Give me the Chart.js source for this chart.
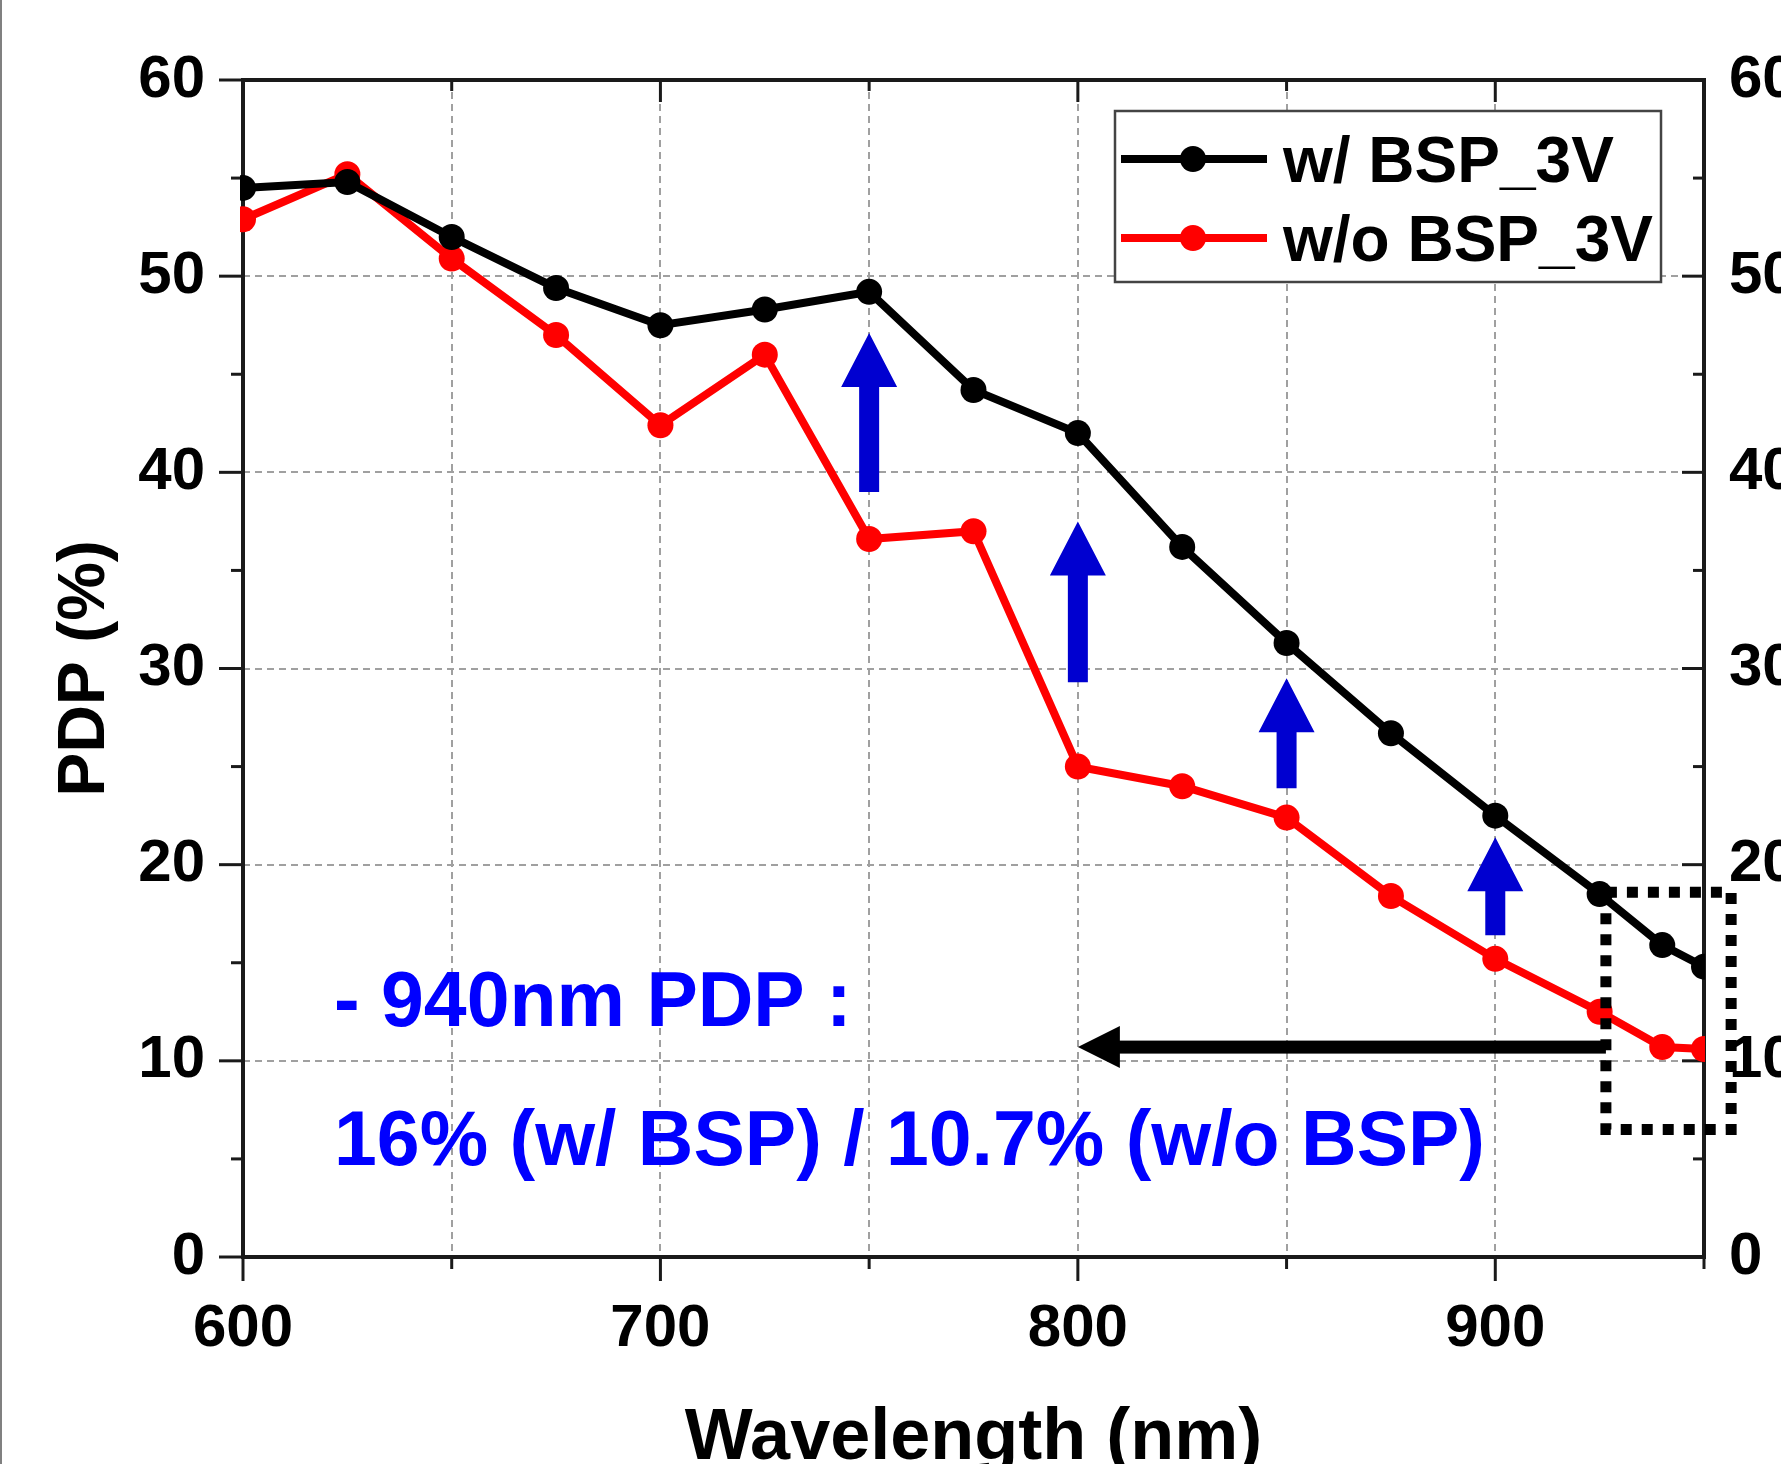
<!DOCTYPE html>
<html lang="en">
<head>
    <meta charset="UTF-8">
    <title>PDP vs Wavelength</title>
    <style>
        html, body { margin: 0; padding: 0; background: #fff; overflow: hidden; width: 1781px; height: 1464px; }
        #wrap { position: absolute; left: 0; top: 0; }
        #edge { position: absolute; left: 0; top: 0; width: 2px; height: 1464px; background: #808080; z-index: 2; }
    </style>
</head>
<body>
    <div id="edge"></div>
    <div id="wrap">
        <canvas id="pdpChart" width="1830" height="1482"></canvas>
    </div>

    <script src="https://cdn.jsdelivr.net/npm/chart.js"></script>
    <script>
        // measured PDP (%) vs wavelength (nm)
        const wavelengths = [600, 625, 650, 675, 700, 725, 750, 775, 800, 825, 850, 875, 900, 925, 940, 950];
        const pdpWithBsp = [54.5, 54.8, 52.0, 49.4, 47.5, 48.3, 49.2, 44.2, 42.0, 36.2, 31.3, 26.7, 22.5, 18.5, 15.9, 14.8];
        const pdpWithoutBsp = [52.9, 55.2, 50.9, 47.0, 42.4, 46.0, 36.6, 37.0, 25.0, 24.0, 22.4, 18.4, 15.2, 12.5, 10.7, 10.6];
        const seriesLabels = ['w/ BSP_3V', 'w/o BSP_3V'];
        const seriesColors = ['#000000', '#ff0000'];

        // blue "improvement" arrows (wavelength, from, to)
        const arrowWavelengths = [750, 800, 850, 900];
        const arrowFrom = [39.0, 29.3, 23.9, 16.4];
        const arrowTo = [47.1, 37.5, 29.5, 21.4];

        // annotation
        const noteLines = ['- 940nm PDP :', '16% (w/ BSP) / 10.7% (w/o BSP)'];
        const backArrow = [926.5, 800, 10.7];        // from nm, to nm, at PDP
        const zoomBox = [926.5, 956.5, 6.5, 18.6];   // nm left/right, PDP bottom/top

        const W = 1830, H = 1482;
        const FONT = "'Liberation Sans', Arial, sans-serif";
        Chart.defaults.font.family = FONT;
        Chart.defaults.font.weight = 'bold';
        Chart.defaults.color = '#000';

        function seg(ctx, x1, y1, x2, y2) {
            ctx.beginPath();
            ctx.moveTo(x1, y1);
            ctx.lineTo(x2, y2);
            ctx.stroke();
        }

        // frame + in/out ticks (major and minor)
        const frame = {
            id: 'frame',
            beforeDatasetsDraw(chart) {
                const { ctx, chartArea: a, scales: { x, y } } = chart;
                ctx.save();
                ctx.strokeStyle = '#1a1a1a';
                ctx.lineWidth = 4;
                ctx.strokeRect(a.left, a.top, a.right - a.left, a.bottom - a.top);
                ctx.lineWidth = 3;
                for (let v = 0; v <= 60; v += 5) {
                    const py = y.getPixelForValue(v);
                    const major = v % 10 === 0;
                    seg(ctx, a.left - (major ? 24 : 12), py, a.left, py);
                    seg(ctx, a.right, py, a.right - (major ? 22 : 11), py);
                }
                for (let v = 600; v <= 950; v += 50) {
                    const px = x.getPixelForValue(v);
                    const major = v % 100 === 0;
                    seg(ctx, px, a.bottom, px, a.bottom + (major ? 24 : 12));
                    seg(ctx, px, a.top, px, a.top + (major ? 22 : 11));
                }
                ctx.restore();
            }
        };

        // arrows, note text, dotted box, legend
        const decor = {
            id: 'decor',
            afterDraw(chart) {
                const { ctx, chartArea: a, scales: { x, y } } = chart;
                ctx.save();

                // blue arrows
                ctx.fillStyle = '#0000d0';
                arrowWavelengths.forEach((w, i) => {
                    const px = x.getPixelForValue(w);
                    const yb = y.getPixelForValue(arrowFrom[i]);
                    const yt = y.getPixelForValue(arrowTo[i]);
                    const hh = 54, hw = 28, sw = 10;
                    ctx.beginPath();
                    ctx.moveTo(px - sw, yb);
                    ctx.lineTo(px - sw, yt + hh);
                    ctx.lineTo(px - hw, yt + hh);
                    ctx.lineTo(px, yt);
                    ctx.lineTo(px + hw, yt + hh);
                    ctx.lineTo(px + sw, yt + hh);
                    ctx.lineTo(px + sw, yb);
                    ctx.closePath();
                    ctx.fill();
                });

                // black arrow pointing back to the note
                const ax1 = x.getPixelForValue(backArrow[0]);
                const ax2 = x.getPixelForValue(backArrow[1]);
                const ay = y.getPixelForValue(backArrow[2]);
                ctx.fillStyle = '#000';
                ctx.fillRect(ax2 + 40, ay - 6.5, ax1 - ax2 - 40, 13);
                ctx.beginPath();
                ctx.moveTo(ax2, ay);
                ctx.lineTo(ax2 + 42, ay - 21);
                ctx.lineTo(ax2 + 42, ay + 21);
                ctx.closePath();
                ctx.fill();

                // dotted box round the 940 nm points
                const bl = x.getPixelForValue(zoomBox[0]), br = x.getPixelForValue(zoomBox[1]);
                const bb = y.getPixelForValue(zoomBox[2]), bt = y.getPixelForValue(zoomBox[3]);
                ctx.strokeStyle = '#000';
                ctx.lineWidth = 11;
                ctx.setLineDash([11, 10]);
                ctx.strokeRect(bl, bt, br - bl, bb - bt);
                ctx.setLineDash([]);

                // note text
                ctx.fillStyle = '#0000ff';
                ctx.font = 'bold 77px ' + FONT;
                ctx.textAlign = 'left';
                ctx.textBaseline = 'alphabetic';
                const tx = x.getPixelForValue(621.8);
                ctx.fillText(noteLines[0], tx, y.getPixelForValue(11.8));
                ctx.fillText(noteLines[1], tx, y.getPixelForValue(4.7));

                // legend
                const boxL = a.right - 589, boxT = a.top + 31, boxW = 546, boxH = 171;
                ctx.fillStyle = '#fff';
                ctx.fillRect(boxL, boxT, boxW, boxH);
                ctx.strokeStyle = '#444';
                ctx.lineWidth = 2.5;
                ctx.strokeRect(boxL, boxT, boxW, boxH);
                ctx.font = 'bold 64px ' + FONT;
                chart.data.datasets.forEach((ds, i) => {
                    const ry = boxT + 48 + i * 79;
                    ctx.strokeStyle = ds.borderColor;
                    ctx.lineWidth = 8;
                    seg(ctx, boxL + 6, ry, boxL + 152, ry);
                    ctx.fillStyle = ds.borderColor;
                    ctx.beginPath();
                    ctx.arc(boxL + 78, ry, 13, 0, Math.PI * 2);
                    ctx.fill();
                    ctx.fillStyle = '#000';
                    ctx.fillText(ds.label, boxL + 168, ry + 23);
                });

                ctx.restore();
            }
        };

        const tickFont = { size: 60, weight: 'bold' };
        const dash = [7, 5];

        function makeSet(label, values, color) {
            return {
                label: label,
                data: wavelengths.map((w, i) => ({ x: w, y: values[i] })),
                borderColor: color,
                backgroundColor: color,
                pointBackgroundColor: color,
                pointBorderColor: color,
                borderWidth: 8,
                pointRadius: 13,
                pointBorderWidth: 0,
                tension: 0,
                clip: { left: 3, right: 1, top: 20, bottom: 20 }
            };
        }

        new Chart(document.getElementById('pdpChart').getContext('2d'), {
            type: 'line',
            data: {
                datasets: [
                    makeSet(seriesLabels[0], pdpWithBsp, seriesColors[0]),
                    makeSet(seriesLabels[1], pdpWithoutBsp, seriesColors[1])
                ]
            },
            options: {
                responsive: false,
                animation: false,
                layout: { padding: { top: 80, left: 0, right: 0, bottom: 0 } },
                plugins: { legend: { display: false }, tooltip: { enabled: false } },
                scales: {
                    x: {
                        type: 'linear',
                        min: 600,
                        max: 950,
                        ticks: {
                            stepSize: 50,
                            autoSkip: false,
                            maxRotation: 0,
                            padding: 36,
                            font: tickFont,
                            callback: v => (v % 100 === 0 ? v : '')
                        },
                        grid: { color: '#a0a0a0', lineWidth: 2, drawTicks: false },
                        border: { display: false, dash: dash },
                        title: { display: true, text: 'Wavelength (nm)', font: { size: 72, weight: 'bold' }, padding: { top: 0, bottom: 0 } },
                        afterFit: s => { s.height = H - 1257; }
                    },
                    y: {
                        min: 0,
                        max: 60,
                        ticks: { stepSize: 10, padding: 38, font: tickFont },
                        grid: { color: '#a0a0a0', lineWidth: 2, drawTicks: false },
                        border: { display: false, dash: dash },
                        title: { display: true, text: 'PDP (%)', font: { size: 66, weight: 'bold' }, padding: { top: 46, bottom: 0 } },
                        afterFit: s => { s.width = 243; }
                    },
                    y2: {
                        position: 'right',
                        min: 0,
                        max: 60,
                        ticks: { stepSize: 10, padding: 25, font: tickFont },
                        grid: { display: false, drawTicks: false },
                        border: { display: false },
                        afterFit: s => { s.width = W - 1704; }
                    }
                }
            },
            plugins: [frame, decor]
        });
    </script>
</body>
</html>
